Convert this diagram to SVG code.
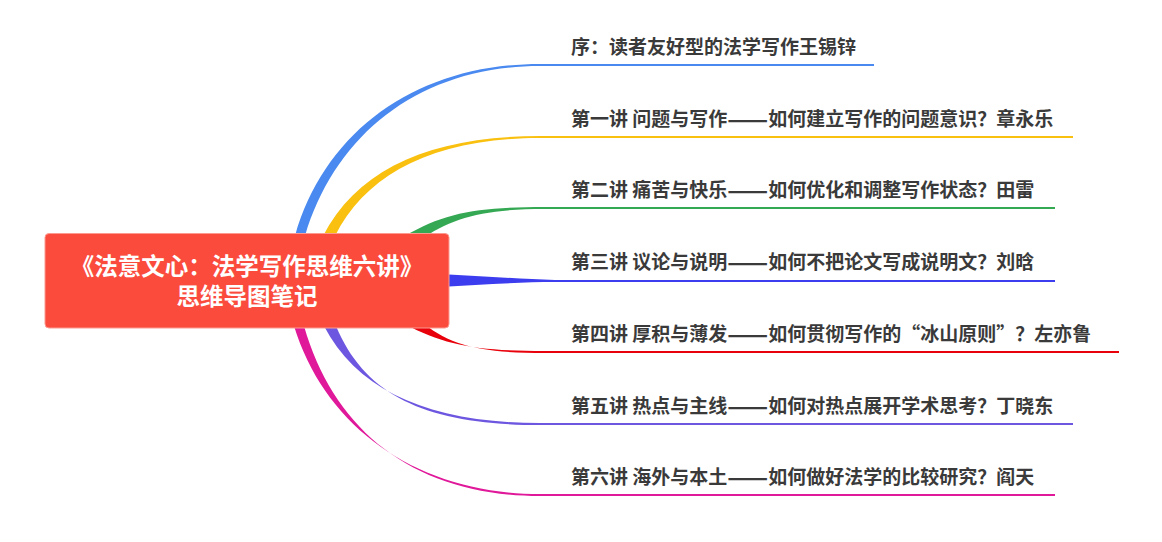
<svg xmlns="http://www.w3.org/2000/svg" width="1162" height="542" viewBox="0 0 1162 542">
<style>
.lbl{font-family:"Noto Sans CJK SC","Liberation Sans",sans-serif;font-size:19px;font-weight:bold;fill:#3a3a3a}
.dsh{font-size:24px}
.ctr{font-family:"Noto Sans CJK SC","Liberation Sans",sans-serif;font-size:23.5px;font-weight:bold;fill:#ffffff;text-anchor:middle}
.ln{fill:none;stroke-width:2}
</style>
<rect width="1162" height="542" fill="#ffffff"/>
<g id="connectors">
  <path d="M295,236 C326,128 420,64 540,64 L540,66 C422,66 336,132 305,236 Z" fill="#4a8af0"/>
  <path class="ln" d="M539,65 H874" stroke="#4a8af0"/>
  <path d="M323,236 C358,168 432,136 540,136 L540,138 C434,138 366,174 335,236 Z" fill="#f9c00f"/>
  <path class="ln" d="M539,137 H1073" stroke="#f9c00f"/>
  <path d="M405,236 C445,212 480,207 545,207 L545,209 C482,209 452,218 420,240 Z" fill="#34a853"/>
  <path class="ln" d="M544,208 H1055" stroke="#34a853"/>
  <path d="M440,274 C480,276 520,279 555,280 L555,282 C520,282 480,285 440,287 Z" fill="#3d3df0"/>
  <path class="ln" d="M554,281 H1055" stroke="#3d3df0"/>
  <path d="M405,324 C445,346 480,351 545,351 L545,353 C482,353 448,346 420,320 Z" fill="#e8000b"/>
  <path class="ln" d="M544,352 H1119" stroke="#e8000b"/>
  <path d="M324,326 C358,392 432,423 540,423 L540,425 C430,425 366,398 336,326 Z" fill="#6e57e0"/>
  <path class="ln" d="M539,424 H1073" stroke="#6e57e0"/>
  <path d="M294,326 C326,430 420,494 540,494 L540,496 C418,496 335,434 304,326 Z" fill="#e0189a"/>
  <path class="ln" d="M539,495 H1055" stroke="#e0189a"/>
</g>
<g id="center">
  <rect x="45" y="233.5" width="404" height="94.5" rx="4" fill="#fa4b3d" stroke="#fc9a90" stroke-width="1"/>
  <text class="ctr" x="247" y="275">《法意文心：法学写作思维六讲》</text>
  <text class="ctr" x="247" y="305">思维导图笔记</text>
</g>
<g id="n0"><text class="lbl" x="571" y="54">序：读者友好型的法学写作王锡锌</text></g>
<g id="n1"><text class="lbl" x="571" y="126">第一讲 问题与写作<tspan class="dsh" dy="1.8">——</tspan><tspan dy="-1.8">如何建立写作的问题意识？章永乐</tspan></text></g>
<g id="n2"><text class="lbl" x="571" y="197">第二讲 痛苦与快乐<tspan class="dsh" dy="1.8">——</tspan><tspan dy="-1.8">如何优化和调整写作状态？田雷</tspan></text></g>
<g id="n3"><text class="lbl" x="571" y="269">第三讲 议论与说明<tspan class="dsh" dy="1.8">——</tspan><tspan dy="-1.8">如何不把论文写成说明文？刘晗</tspan></text></g>
<g id="n4"><text class="lbl" x="571" y="341">第四讲 厚积与薄发<tspan class="dsh" dy="1.8">——</tspan><tspan dy="-1.8">如何贯彻写作的“冰山原则”？左亦鲁</tspan></text></g>
<g id="n5"><text class="lbl" x="571" y="413">第五讲 热点与主线<tspan class="dsh" dy="1.8">——</tspan><tspan dy="-1.8">如何对热点展开学术思考？丁晓东</tspan></text></g>
<g id="n6"><text class="lbl" x="571" y="484">第六讲 海外与本土<tspan class="dsh" dy="1.8">——</tspan><tspan dy="-1.8">如何做好法学的比较研究？阎天</tspan></text></g>
</svg>
